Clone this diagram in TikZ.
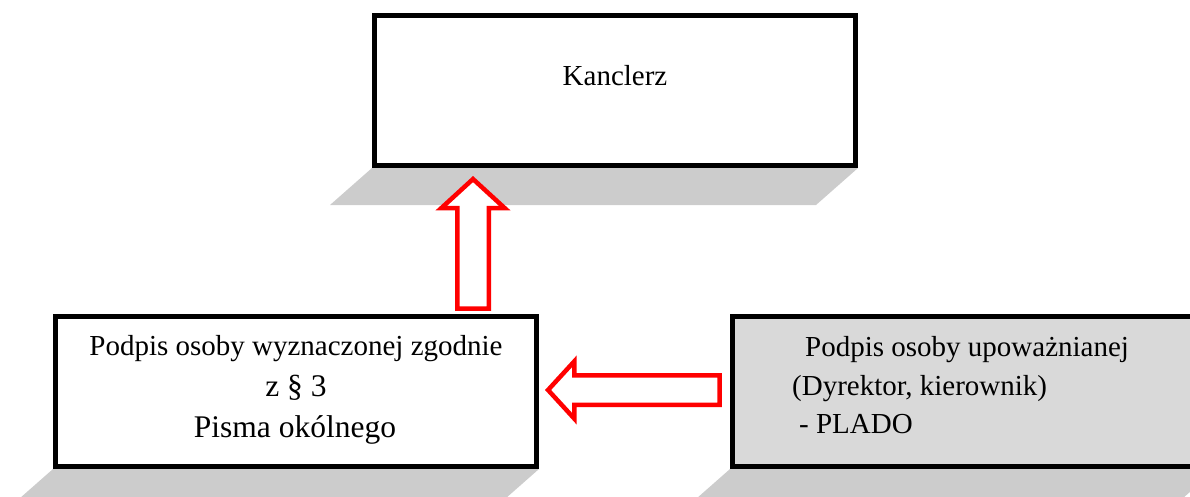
\documentclass[tikz,border=0pt]{standalone}
\usepackage{fontspec}
\setmainfont{Liberation Serif}
\usetikzlibrary{shapes.arrows}
\usetikzlibrary{backgrounds}
\usetikzlibrary{calc}
\definecolor{shadowgray}{RGB}{204,204,204}
\definecolor{boxgray}{RGB}{217,217,217}
\definecolor{arrowred}{RGB}{255,0,0}
\tikzset{
    mybox/.style = {rectangle, draw=black, line width=5pt, outer sep=2.5pt, minimum width=481pt, minimum height=150pt, inner sep=0pt},
    myboxw/.style = {mybox, fill=white},
    myboxg/.style = {mybox, fill=boxgray},
    mytext/.style = {inner sep=0pt, anchor=base, font=\fontsize{29}{35}\selectfont},
    mytextl/.style = {inner sep=0pt, anchor=base west, font=\fontsize{29}{35}\selectfont},
    mytextb/.style = {inner sep=0pt, anchor=base, font=\fontsize{31.5}{38}\selectfont},
    blockarrow/.style = {single arrow, draw=arrowred, fill=white, line width=4.5pt, single arrow head indent=0pt, single arrow tip angle=95},
    shadowof/.style = {shadowgray}
}
\newcommand{\boxshadow}[1]{%
  \fill[shadowof] (#1.south west) -- (#1.south east) -- ++(-42,37) -- ($(#1.south west)+(-42,37)$) -- cycle;}

\begin{document}
\begin{tikzpicture}[x=1pt,y=-1pt]
\useasboundingbox (0,0) rectangle (1190,497);
\clip (0,0) rectangle (1190,497);

% boxes
\node[myboxw] at ( 615.0,  90.5) (kanclerz) {};
\node[myboxw] at ( 296.0, 391.5) (wyznaczona) {};
\node[myboxg] at ( 973.0, 391.5) (upowazniona) {};

% shadows
\begin{scope}[on background layer]
\boxshadow{kanclerz}
\boxshadow{wyznaczona}
\boxshadow{upowazniona}
\end{scope}

% texts
\node[mytext] at (615, 86) (t1) {Kanclerz};
\node[mytext] at (296, 355) (t2) {Podpis osoby wyznaczonej zgodnie};
\node[mytextb] at (296, 396) (t3) {z § 3};
\node[mytextb] at (295, 437) (t4) {Pisma okólnego};
\node[mytextl] at (805, 356) (t5) {Podpis osoby upoważnianej};
\node[mytextl] at (792, 395) (t6) {(Dyrektor, kierownik)};
\node[mytextl] at (799, 433) (t7) {- PLADO};

% arrows
\node[blockarrow, rotate=90, anchor=tip, single arrow head extend=16pt, minimum height=129.5pt, inner sep=13.5pt] at (473, 176) (up) {};
\node[blockarrow, rotate=180, anchor=tip, single arrow head extend=14pt, minimum height=171.5pt, inner sep=12.5pt] at (545, 390) (left) {};

\end{tikzpicture}
\end{document}
